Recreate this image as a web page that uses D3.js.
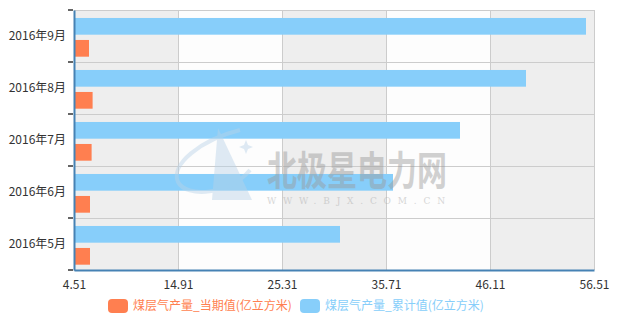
<!DOCTYPE html>
<html><head><meta charset="utf-8">
<script src="https://cdn.jsdelivr.net/npm/d3@7"></script>
<style>html,body{margin:0;padding:0;background:#fff;}svg{display:block;}</style>
</head><body><div id="chart"></div>
<script>
const categories = ["2016年5月","2016年6月","2016年7月","2016年8月","2016年9月"];
const currentValues = [6.11, 6.11, 6.27, 6.37, 6.01];
const cumulativeValues = [31.11, 36.41, 43.11, 49.71, 55.71];
const xTicks = [4.51, 14.91, 25.31, 35.71, 46.11, 56.51];
const seriesNames = ["煤层气产量_当期值(亿立方米)", "煤层气产量_累计值(亿立方米)"];
const colors = ["#ff7f50", "#87cefa"];

const W = 620, H = 323;
const m = {l: 74, r: 594, t: 10, b: 270};
const font = "'Noto Sans CJK SC', 'Noto Sans', sans-serif";

const svg = d3.select("#chart").append("svg").attr("width", W).attr("height", H);

const x = d3.scaleLinear().domain([xTicks[0], xTicks[xTicks.length-1]]).range([m.l, m.r]);
const y = d3.scaleBand().domain(categories.slice().reverse()).range([m.t, m.b]).padding(0);
const sub = d3.scaleBand().domain(["cum","cur"]).range([0, y.bandwidth()])
  .paddingInner(0.24).paddingOuter(0.302).align(0.6);

// alternating background
for (let i = 0; i < xTicks.length - 1; i++) {
  svg.append("rect").attr("x", x(xTicks[i])).attr("y", m.t)
    .attr("width", x(xTicks[i+1]) - x(xTicks[i])).attr("height", m.b - m.t)
    .attr("fill", i % 2 === 0 ? "#eeeeee" : "#fdfdfd");
}
// grid lines
svg.append("g").selectAll("line").data(xTicks).join("line")
  .attr("x1", d => x(d)).attr("x2", d => x(d)).attr("y1", m.t).attr("y2", m.b)
  .attr("stroke", "#cccccc").attr("stroke-width", 1).attr("shape-rendering", "crispEdges");
const bounds = categories.map(c => y(c)).concat([m.b]);
svg.append("g").selectAll("line").data(bounds).join("line")
  .attr("x1", m.l).attr("x2", m.r).attr("y1", d => d).attr("y2", d => d)
  .attr("stroke", "#cccccc").attr("stroke-width", 1).attr("shape-rendering", "crispEdges");

// bars
const gBars = svg.append("g");
gBars.selectAll("rect.cum").data(categories).join("rect").attr("class","cum")
  .attr("x", x(xTicks[0])).attr("y", (c) => y(c) + sub("cum"))
  .attr("width", (c,i) => x(cumulativeValues[i]) - x(xTicks[0]))
  .attr("height", sub.bandwidth()).attr("fill", colors[1]);
gBars.selectAll("rect.cur").data(categories).join("rect").attr("class","cur")
  .attr("x", x(xTicks[0])).attr("y", (c) => y(c) + sub("cur"))
  .attr("width", (c,i) => x(currentValues[i]) - x(xTicks[0]))
  .attr("height", sub.bandwidth()).attr("fill", colors[0]);

// watermark
const wm = svg.append("g").attr("opacity", 0.45).attr("pointer-events","none");
wm.append("path").attr("d", "M218,128 L252,200 L212,200 Z").attr("fill", "#b9d3e8");
wm.append("path").attr("d", "M240,130 C200,140 170,165 178,182 C186,198 230,195 250,170")
  .attr("fill","none").attr("stroke","#b9d3e8").attr("stroke-width",4);
wm.append("path").attr("d", "M246,140 L248,145 L253,147 L248,149 L246,154 L244,149 L239,147 L244,145 Z")
  .attr("fill","#b9d3e8");
wm.append("text").attr("transform","translate(267,185) scale(1,1.3)")
  .attr("font-family", font).attr("font-weight", "bold").attr("font-size", 31)
  .attr("textLength", 180).attr("lengthAdjust","spacingAndGlyphs")
  .attr("fill", "#9a9a9a").text("北极星电力网");
wm.append("text").attr("x", 267).attr("y", 204)
  .attr("font-family", "'DejaVu Serif', serif").attr("font-size", 9)
  .attr("textLength", 178).attr("lengthAdjust","spacing")
  .attr("fill", "#a8a8a8").text("WWW.BJX.COM.CN");

// axes
const xAxis = d3.axisBottom(x).tickValues(xTicks).tickFormat(d => d.toFixed(2)).tickSize(0).tickPadding(10);
const gx = svg.append("g").attr("transform", `translate(0,${m.b})`).call(xAxis);
gx.select(".domain").attr("stroke", "#4682b4").attr("stroke-width", 2);
gx.selectAll("text").attr("font-family", font).attr("font-size", 12).attr("fill", "#333");

const yAxis = d3.axisLeft(y).tickSize(0).tickPadding(8);
const gy = svg.append("g").attr("transform", `translate(${m.l},0)`).call(yAxis);
gy.select(".domain").attr("stroke", "#4682b4").attr("stroke-width", 2);
gy.selectAll("text").attr("font-family", font).attr("font-size", 12).attr("fill", "#333");
// category boundary ticks
gy.append("g").selectAll("line").data(bounds).join("line")
  .attr("x1", -6).attr("x2", -1).attr("y1", d => d).attr("y2", d => d)
  .attr("stroke", "#333").attr("stroke-width", 1.5);

// legend
const legend = svg.append("g");
const legX = [108, 300];
seriesNames.forEach((name, i) => {
  legend.append("rect").attr("x", legX[i]).attr("y", 299).attr("width", 20).attr("height", 14)
    .attr("rx", 4).attr("fill", colors[i]);
  legend.append("text").attr("x", legX[i] + 25).attr("y", 306).attr("dy", "0.35em")
    .attr("font-family", font).attr("font-size", 12).attr("fill", colors[i]).text(name);
});
</script>
</body></html>
